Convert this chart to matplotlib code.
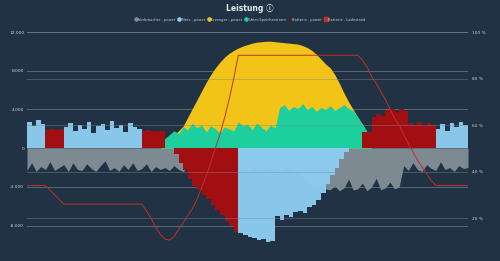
import numpy as np
import matplotlib
matplotlib.use("Agg")
import matplotlib.pyplot as plt
from matplotlib.lines import Line2D

# time axis: quarter hours over one day
hours = np.arange(97) / 4.0

verbraucher = [-2300,-1500,-2400,-1900,-2200,-1400,-2300,-2000,-1700,-2400,-1500,-2200,-2300,-1600,-2100,-2400,
               -1800,-1300,-2300,-2000,-2400,-1700,-2200,-1500,-2300,-2100,-1600,-2400,-1900,-2200,
               -2000,-2300,-1800,-2200,-2400,-1900,-2100,-2300,-1700,-2200,-2000,-2400,-1800,-2100,-2300,-1900,
               -2200,-2000,-2400,-1800,-2100,-2300,-1900,-2200,-2000,-2400,-1800,-2100,-2300,-2600,-3000,-3400,
               -3700,-3900,
               -4000,-4200,-4300,-3900,-4400,-4100,-3200,-4300,-4200,-3600,-4400,-4000,-3100,-4300,-4100,-3500,
               -4200,-4000,
               -1800,-2300,-1500,-2200,-2400,-1700,-2100,-2300,-1400,-2200,-2000,-2400,-1800,-2100,-2000]

netz = [2700,2300,2900,2500, 0,0,0,0,
        2200,2600,1800,2400,2000,2700,1600,2300,2500,1900,2800,2100,2400,1700,2600,2200,2000,
        0,0,0,0,0,0,0,0,0,0,0,0,0,0,0,0,0,0,0,0,0,
        -8800,-9000,-9200,-9300,-9500,-9400,-9700,-9600,
        -7000,-7400,-6900,-7100,-6600,-6500,-6700,-6100,-5900,-5400,-4600,-3700,-2800,-2000,-1100,-400,
        0,0,0,0,0,0,0,0,0,0,0,0,0,0,0,0,0,0,0,
        2000,2500,1800,2600,2200,2700,2400,2400]

erzeuger = [0]*30 + [600,1000,1400,1800,2300,3200,4100,5000,5900,6800,7600,8300,8900,9400,9800,10100,
            10350,10550,10700,10850,10950,11000,11050,11050,11000,10950,10900,10850,10800,
            10750,10600,10400,10100,9700,9200,8700,8300,7600,6700,5700,4800,4000,3200,2500,1700,0] + [0]*21

direkt = [0]*30 + [1000,1400,1800,1500,2200,1900,2600,2100,2400,1700,2300,2000,1600,2200,2000,1800,
          2700,2300,2500,1900,2600,2200,1800,2400,2100,
          4200,4500,3900,4300,4100,4600,4000,4300,3800,4200,4000,4400,3900,4200,4500,4100,
          3900,3200,2500,1700,0] + [0]*21

batterie = [0,0,0,0, 1900,2000,1900,1950] + [0]*17 + [1800,1850,1800,1750,1800, 0,0,
            -600,-1500,-2300,-3200,-3900,-4300,-4800,-5200,-5900,-6400,-6900,-7500,-8000,-8700] + [0]*27 + \
           [1700,1700,3200,3500,3300,3900,4000,3700,4000,3800,2600,2400,2700,2300,2600,2400] + [0]*8

ladestand = [34,34,34,34,34,32,30,28] + [26]*18 + \
            [23,20,16,13,11,10.5,12,15,18,21,24,28,33,38,44,50,56,63,71,80,90] + [90]*25 + \
            [90,88,85,81,78,74.5,71,67,63,60,56,52,48.5,45,42,39,36,34] + [34]*7

left_ticks = [-8000, -4000, 0, 4000, 8000, 12000]
left_labels = ["-8.000", "-4.000", "0", "4.000", "8.000", "12.000"]
right_ticks = [20, 40, 60, 80, 100]
right_labels = ["20 %", "40 %", "60 %", "80 %", "100 %"]

BG = "#213244"
C_GREY = "#7d8a92"
C_BLUE = "#8ccdf0"
C_YELLOW = "#f2c417"
C_TEAL = "#1ccf9c"
C_DRED = "#a20f12"
C_RED = "#c0302a"
TXT = "#c8d0d8"
GRID = "#7e8b96"

fig = plt.figure(figsize=(5, 2.61), dpi=100, facecolor=BG)
ax = fig.add_axes([0.054, 0.0613, 0.882, 0.816], facecolor=BG)

v = np.array(verbraucher, float)
n = np.array(netz, float)
e = np.array(erzeuger, float)
d = np.array(direkt, float)
b = np.array(batterie, float)

st = "post"
ax.fill_between(hours, 0, v, color=C_GREY, lw=0, zorder=2)
ax.fill_between(hours, 0, e, color=C_YELLOW, lw=0, zorder=3)
ax.fill_between(hours, 0, d, color=C_TEAL, lw=0, zorder=4)
ax.fill_between(hours, 0, b, step=st, color=C_DRED, lw=0, zorder=5)
ax.fill_between(hours, 0, n, step=st, color=C_BLUE, lw=0, alpha=0.97, zorder=6)

ax.set_xlim(0, 24)
ax.set_ylim(-10000, 12000)
ax.set_yticks(left_ticks)
ax.set_yticklabels(left_labels)
ax.set_xticks([])
for s in ax.spines.values():
    s.set_visible(False)
ax.tick_params(axis="y", length=0, labelsize=3.2, labelcolor=TXT, pad=2)
for y in left_ticks:
    ax.axhline(y, color=GRID, lw=0.6, alpha=0.7, zorder=1)

ax2 = ax.twinx()
ax2.set_ylim(8.4, 100)
ax2.plot(hours, ladestand, color=C_RED, lw=0.7, zorder=10)
ax2.set_yticks(right_ticks)
ax2.set_yticklabels(right_labels)
for s in ax2.spines.values():
    s.set_visible(False)
ax2.tick_params(axis="y", length=0, labelsize=3.2, labelcolor=TXT, pad=3)
for y in right_ticks:
    ax2.axhline(y, color=GRID, lw=0.6, alpha=0.5, zorder=0)

fig.text(0.5, 0.968, "Leistung \u24d8", ha="center", va="center", color="#e8edf2",
         fontsize=5.5, fontweight="bold", family=["DejaVu Sans", "Noto Sans CJK SC"])

handles = [
    Line2D([], [], ls="none", marker="o", ms=2.3, mfc=C_GREY, mec=C_GREY),
    Line2D([], [], ls="none", marker="o", ms=2.3, mfc=C_BLUE, mec=C_BLUE),
    Line2D([], [], ls="none", marker="o", ms=2.3, mfc=C_YELLOW, mec=C_YELLOW),
    Line2D([], [], ls="none", marker="o", ms=2.3, mfc=C_TEAL, mec=C_TEAL),
    Line2D([], [], ls="none", marker="o", ms=2.3, mfc="#4a1f2c", mec="#4a1f2c"),
    Line2D([], [], ls="none", marker="s", ms=2.3, mfc=C_RED, mec=C_RED),
]
labels = ["Verbraucher - power", "Netz - power", "Erzeuger - power", "Unter-Speicherstrom",
          "Batterie - power", "Batterie - Ladestand"]
fig.legend(handles, labels, loc="center", bbox_to_anchor=(0.5, 0.925), ncol=6, frameon=False,
           fontsize=2.6, labelcolor=TXT, handletextpad=0.2, columnspacing=0.7, handlelength=0.8)

fig.savefig("out.png", dpi=100, facecolor=BG)
